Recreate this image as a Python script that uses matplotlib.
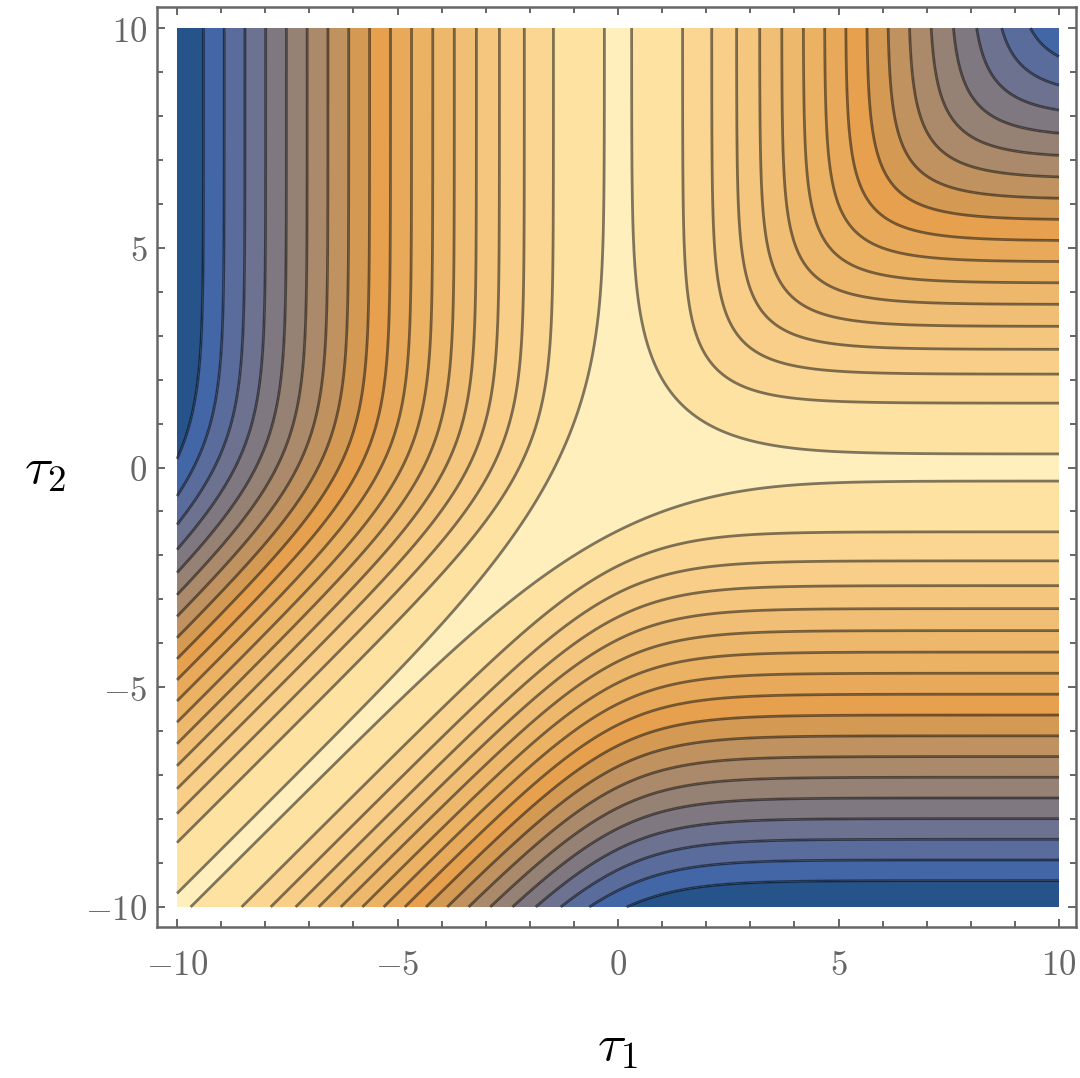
import numpy as np
import matplotlib.pyplot as plt
from matplotlib.ticker import MultipleLocator, FuncFormatter

plt.rcParams['mathtext.fontset'] = 'cm'

# contour levels (step ~0.47)
levels = [-9.40, -8.93, -8.46, -7.99, -7.52, -7.05, -6.58, -6.11, -5.64,
          -5.17, -4.70, -4.23, -3.76, -3.29, -2.82, -2.35, -1.88, -1.41]

# band fill colours, lowest band first (Mathematica default gradient)
band_colors = ['#26548a', '#4266a6', '#5a6c9c', '#6c7290', '#807880',
               '#968274', '#aa8a6a', '#c09260', '#d49a54', '#e6a04e',
               '#e8aa5a', '#ecb264', '#eeb86c', '#f0be74', '#f4c67e',
               '#f8ce88', '#fad692', '#fee2a2', '#ffefbd']

major_ticks = [-10, -5, 0, 5, 10]

# surface: f = log(e^-t1 + e^-t2 + e^-(t1+t2)) - 2 log(1 + e^-t1 + e^-t2)
t = np.linspace(-10, 10, 801)
t1, t2 = np.meshgrid(t, t)
num = np.logaddexp(np.logaddexp(-t1, -t2), -t1 - t2)
den = np.logaddexp(np.logaddexp(0.0, -t1), -t2)
z = num - 2 * den

fig = plt.figure(figsize=(10.8, 10.78), dpi=100)
ax = fig.add_axes([157/1080, 1 - 927/1078, (1076 - 157)/1080, (927 - 7)/1078])

bounds = [z.min() - 1] + levels + [z.max() + 1]
ax.contourf(t1, t2, z, levels=bounds, colors=band_colors, antialiased=True)
ax.contour(t1, t2, z, levels=levels, colors='black', alpha=0.5,
           linewidths=2.0, linestyles='solid')

ax.set_xlim(-10 - 20*20/882, 10 + 17*20/882)
ax.set_ylim(-10 - 20*20/879, 10 + 21*20/879)

gray = '#666666'
for s in ax.spines.values():
    s.set_color(gray)
    s.set_linewidth(1.8)

ax.set_xticks(major_ticks)
ax.set_yticks(major_ticks)
ax.xaxis.set_minor_locator(MultipleLocator(1))
ax.yaxis.set_minor_locator(MultipleLocator(1))
fmt = FuncFormatter(lambda v, p: r'$%d$' % round(v))
ax.xaxis.set_major_formatter(fmt)
ax.yaxis.set_major_formatter(fmt)
ax.tick_params(which='both', direction='in', top=True, right=True,
               color=gray, labelcolor=gray, labelsize=25)
ax.tick_params(which='major', length=6, width=1.4)
ax.tick_params(which='minor', length=4, width=1.4)
ax.tick_params(axis='x', which='major', pad=15)
ax.tick_params(axis='y', which='major', pad=7)

ax.set_xlabel(r'$\tau_1$', fontsize=38)
ax.set_ylabel(r'$\tau_2$', fontsize=38, rotation=0)
ax.xaxis.set_label_coords(0.5005, -0.128)
ax.yaxis.set_label_coords(-0.122, 0.499)
ax.xaxis.label.set_va('center')
ax.yaxis.label.set_va('center')
ax.yaxis.label.set_ha('center')

fig.savefig('out.png', dpi=100)
